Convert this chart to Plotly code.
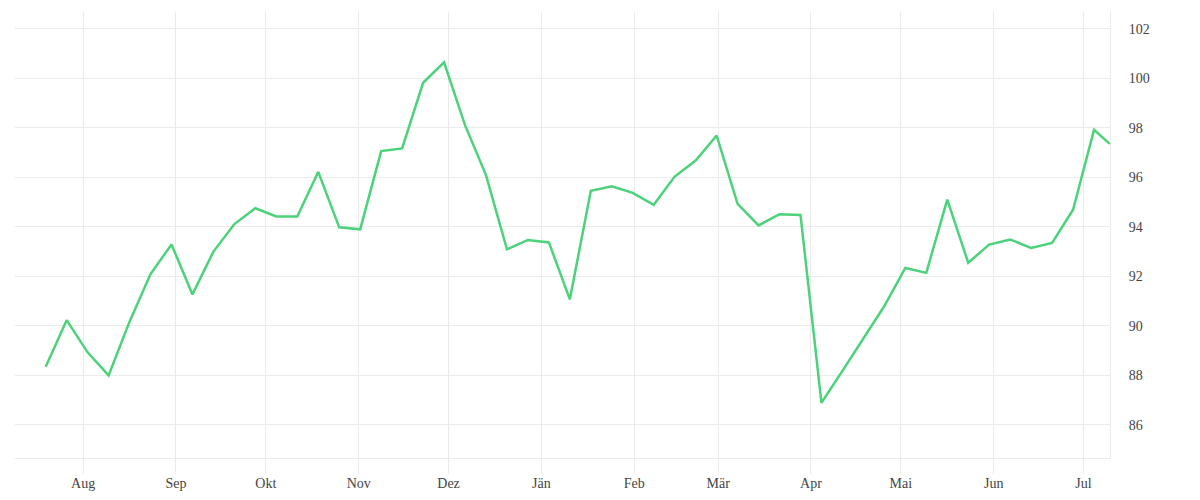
import pandas as pd
import plotly.graph_objects as go

# Weekly observation dates (plus the final partial-week point)
weekly_dates = list(pd.date_range("2022-07-19 12:00", periods=51, freq="7D"))
last_date = pd.Timestamp("2023-07-09 18:00")
dates = weekly_dates + [last_date]

values = [
    88.35, 90.23, 88.93, 88.00, 90.17, 92.09, 93.29, 91.27, 93.00, 94.11,
    94.75, 94.42, 94.42, 96.22, 93.98, 93.90, 97.06, 97.17, 99.82, 100.65,
    98.11, 96.09, 93.09, 93.47, 93.37, 91.07, 95.46, 95.64, 95.37, 94.89,
    96.03, 96.68, 97.69, 94.93, 94.06, 94.51, 94.48, 86.89, 88.18, 89.49,
    90.80, 92.34, 92.14, 95.10, 92.55, 93.28, 93.49, 93.15, 93.35, 94.69,
    97.92, 97.35,
]

month_ticks = ["2022-08-01", "2022-09-01", "2022-10-01", "2022-11-01", "2022-12-01",
               "2023-01-01", "2023-02-01", "2023-03-01", "2023-04-01", "2023-05-01",
               "2023-06-01", "2023-07-01"]
month_labels = ["Aug", "Sep", "Okt", "Nov", "Dez", "Jän", "Feb", "Mär", "Apr", "Mai",
                "Jun", "Jul"]
y_ticks = [86, 88, 90, 92, 94, 96, 98, 100, 102]

x_range = ["2022-07-09 06:00", "2023-07-09 20:00"]
y_range = [84.66, 102.68]

GRID = "#ebebeb"
FONT = dict(family="Liberation Serif, Times New Roman, serif", size=14, color="#444444")

fig = go.Figure()
fig.add_trace(go.Scatter(
    x=dates, y=values, mode="lines",
    line=dict(color="#4bd27b", width=2.5),
    hoverinfo="x+y",
))

fig.update_layout(
    width=1184, height=484,
    margin=dict(l=7, r=82, t=4, b=34),
    paper_bgcolor="white", plot_bgcolor="white",
    showlegend=False,
    font=FONT,
)
fig.update_xaxes(
    type="date", range=x_range, automargin=False,
    tickvals=month_ticks, ticktext=month_labels,
    showgrid=True, gridcolor=GRID, gridwidth=1,
    ticks="outside", ticklen=15, tickcolor=GRID, tickwidth=1,
    ticklabelstandoff=-3,
    showline=True, linecolor=GRID, linewidth=1,
    zeroline=False, tickfont=FONT,
)
fig.update_yaxes(
    side="right", range=y_range, automargin=False,
    tickvals=y_ticks,
    showgrid=True, gridcolor=GRID, gridwidth=1,
    ticks="outside", ticklen=15, tickcolor="rgba(0,0,0,0)",
    showline=True, linecolor=GRID, linewidth=1,
    zeroline=False, tickfont=FONT,
)

fig.write_html("out.html")
